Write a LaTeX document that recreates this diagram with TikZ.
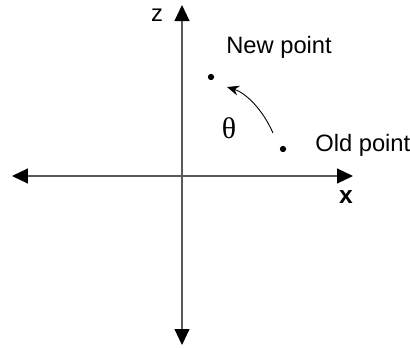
\documentclass[tikz,border=0pt]{standalone}
\usepackage{fontspec}
\setmainfont{Liberation Sans}
\usetikzlibrary{arrows.meta,positioning}

\begin{document}
\begin{tikzpicture}[
  x=0.02cm, y=-0.02cm,
  every node/.style={font=\fontsize{13.5}{16}\selectfont, inner sep=0pt},
  axis/.style={draw=black!65, line width=0.6pt,
    >={Triangle[length=0.32cm,width=0.3cm,color=black]}},
  pt/.style={circle, fill=black, minimum size=3.6pt}
]
  \useasboundingbox (0,0) rectangle (410,349);
  % axes
  \coordinate (left) at (12,176);
  \coordinate (right) at (353,176);
  \coordinate (top) at (182,5);
  \coordinate (bottom) at (182,345);
  \draw[axis,<->] (left) -- (right);
  \draw[axis,<->] (bottom) -- (top);
  \node (zlab) at (157,15) {z};
  \node[font=\fontsize{14}{16}\selectfont\bfseries] (xlab) at (346,197) {x};
  % points
  \node[pt] (new) at (211,77) {};
  \node[pt] (old) at (283,149) {};
  \node[anchor=west] (newlab) at (226,47) {New point};
  \node[anchor=west] (oldlab) at (315,145) {Old point};
  % rotation
  \coordinate (a0) at (273,133);
  \coordinate (a1) at (227,87);
  \draw[-{Stealth[length=2.4mm,width=2mm]}, line width=0.5pt]
    (a0) .. controls (263,110) and (246,93) .. (a1);
  \node[font=\fontsize{17}{18}\selectfont] (theta) at (229,128) {\fontspec{Liberation Serif}θ};
\end{tikzpicture}
\end{document}
